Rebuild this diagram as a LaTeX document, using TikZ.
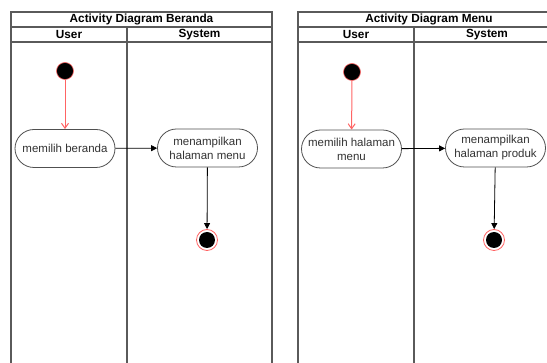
\documentclass[tikz,border=0pt]{standalone}
\usepackage{fontspec}
\setmainfont{Liberation Sans}
\usetikzlibrary{arrows.meta}
\definecolor{lanegray}{RGB}{90,90,90}
\definecolor{nodegray}{RGB}{80,80,80}
\definecolor{startred}{RGB}{255,100,100}
\tikzset{
  lane/.style={draw=lanegray, line width=1.1pt},
  titletext/.style={font=\fontsize{11.8}{13}\selectfont\bfseries, inner sep=0pt},
  headtext/.style={font=\fontsize{11.8}{13}\selectfont\bfseries, inner sep=0pt},
  actbox/.style={draw=nodegray, line width=0.8pt, rounded corners=19pt, minimum width=100pt, minimum height=38pt, align=center, inner sep=1pt, font=\fontsize{11.5}{14}\selectfont, text=black!80},
  startdot/.style={circle, fill=black, draw=startred, line width=0.6pt, minimum size=17pt, inner sep=0pt},
  enddot/.style={circle, draw=startred, line width=0.8pt, minimum size=21pt, inner sep=0pt, path picture={\fill[black] (path picture bounding box.center) circle (8pt);}},
  redflow/.style={draw=startred, line width=1pt, -{Straight Barb[length=5pt,width=7pt]}},
  flow/.style={draw=black, line width=0.8pt, -{Triangle[length=6pt,width=6pt]}},
}
\begin{document}
\begin{tikzpicture}[x=1pt,y=-1pt]
\useasboundingbox[fill=white] (0,0) rectangle (547,363);
% Left diagram frame
\draw[lane] (11,363) -- (11,12) -- (272,12) -- (272,363);
\draw[lane] (11,27) -- (272,27);
\draw[lane] (11,42) -- (272,42);
\draw[lane] (127,27) -- (127,363);
\node[titletext] (t1) at (141.5,19.8) {Activity Diagram Beranda};
\node[headtext] (u1) at (69,34.8) {User};
\node[headtext] (s1) at (199.5,34.8) {System};
% Right diagram frame (clipped at right)
\draw[lane] (298,363) -- (298,12) -- (547,12);
\draw[lane] (298,27) -- (547,27);
\draw[lane] (298,42) -- (547,42);
\draw[lane] (414,27) -- (414,363);
\node[titletext] (t2) at (429,19.8) {Activity Diagram Menu};
\node[headtext] (u2) at (356,34.8) {User};
\node[headtext] (s2) at (487,34.8) {System};
% Left diagram content
\node[startdot] (st1) at (65,71) {};
\node[actbox] (a1) at (65,148.5) {memilih beranda};
\node[actbox] (b1) at (207.5,148) {menampilkan\\halaman menu};
\node[enddot] (e1) at (207,240) {};
\draw[redflow] (st1) -- (a1);
\draw[flow] (a1) -- (b1);
\draw[flow] (b1) -- (e1);
% Right diagram content
\node[startdot] (st2) at (352,72) {};
\node[actbox] (a2) at (351.5,149) {memilih halaman\\menu};
\node[actbox] (b2) at (495.5,148) {menampilkan\\halaman produk};
\node[enddot] (e2) at (494,240) {};
\draw[redflow] (st2) -- (a2);
\draw[flow] (a2) -- (b2);
\draw[flow] (b2) -- (e2);
\end{tikzpicture}
\end{document}
